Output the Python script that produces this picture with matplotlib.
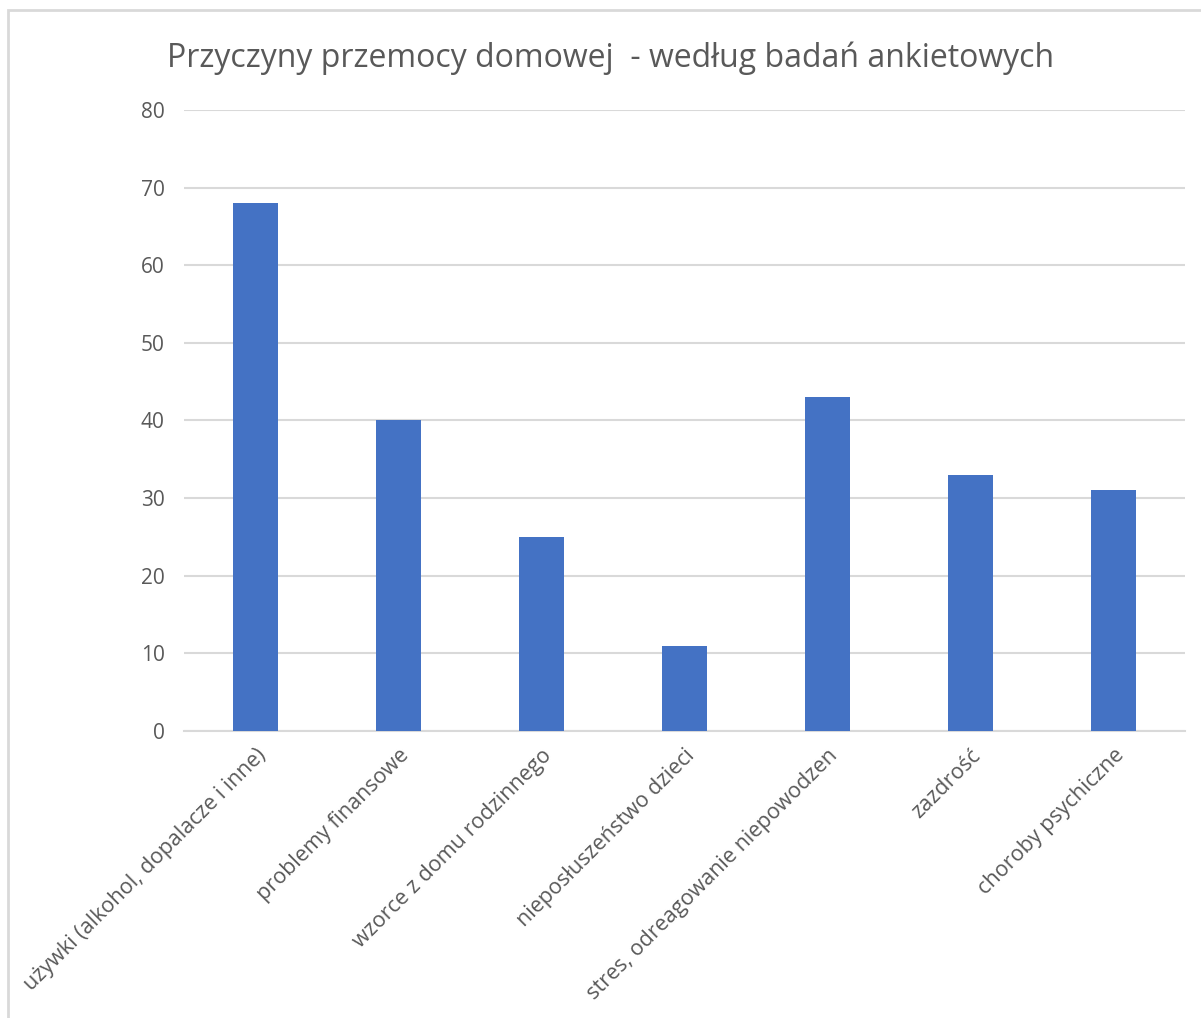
import matplotlib.pyplot as plt
from matplotlib.patches import Rectangle

categories = [
    "używki (alkohol, dopalacze i inne)",
    "problemy finansowe",
    "wzorce z domu rodzinnego",
    "nieposłuszeństwo dzieci",
    "stres, odreagowanie niepowodzen",
    "zazdrość",
    "choroby psychiczne",
]
values = [68, 40, 25, 11, 43, 33, 31]
yticks = [0, 10, 20, 30, 40, 50, 60, 70, 80]

plt.rcParams["font.family"] = ["Open Sans", "DejaVu Sans"]

fig = plt.figure(figsize=(12.01, 10.18), dpi=100)
ax = fig.add_axes([0.1532, 0.2819, 0.8335, 0.6101])

x = range(len(categories))
ax.bar(x, values, width=0.31, color="#4472C4", zorder=3)
ax.set_xlim(-0.5, len(categories) - 0.5)
ax.set_ylim(0, 80)
ax.set_yticks(yticks)
ax.yaxis.grid(True, color="#d9d9d9", linewidth=1.5, zorder=0)
for s in ["top", "right", "left"]:
    ax.spines[s].set_visible(False)
ax.spines["bottom"].set_color("#d9d9d9")
ax.spines["bottom"].set_linewidth(1.5)
ax.tick_params(axis="y", length=0, labelsize=15, colors="#595959", pad=14)
ax.tick_params(axis="x", length=0, labelsize=15.5, colors="#595959", pad=10)
ax.set_xticks(list(x))
ax.set_xticklabels(categories, rotation=45, ha="right", rotation_mode="anchor")

fig.text(0.508, 0.943, "Przyczyny przemocy domowej  - według badań ankietowych",
         ha="center", va="center", fontsize=23, color="#595959")

# light frame around the chart, cut off at right and bottom like the screenshot
fig.patches.append(Rectangle((8, -100), 1300, 1018 - 10 + 100, transform=None,
                             fill=False, edgecolor="#d9d9d9", linewidth=2))

fig.savefig("out.png", dpi=100)
